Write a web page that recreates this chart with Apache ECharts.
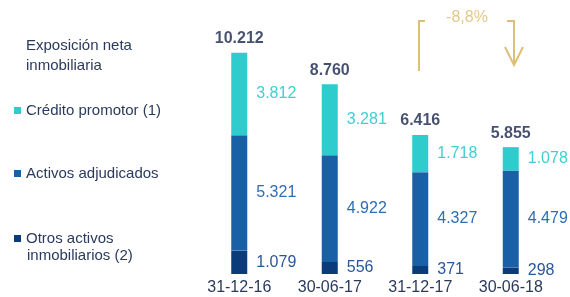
<!DOCTYPE html>
<html lang="es">
<head>
    <meta charset="UTF-8">
    <title>Exposición neta inmobiliaria</title>
    <script src="https://cdn.jsdelivr.net/npm/echarts@6/dist/echarts.min.js"></script>
    <style>
        html, body { margin: 0; padding: 0; background: #fff; }
        #main { width: 570px; height: 297px; }
    </style>
</head>
<body>
<div id="main"></div>
<script type="text/javascript">
    // datos (millones)
    var fechas = ['31-12-16', '30-06-17', '31-12-17', '30-06-18'];
    var creditoPromotor = [3812, 3281, 1718, 1078];
    var activosAdjudicados = [5321, 4922, 4327, 4479];
    var otrosActivos = [1079, 556, 371, 298];
    var totales = [10212, 8760, 6416, 5855];
    var variacion = '-8,8%';

    var fuente = '"Liberation Sans", Arial, sans-serif';
    var cCian = '#2ecccc', cAzul = '#1a60a6', cNavy = '#0b3b78';
    var cTexto = '#2b3a5c', cOro = '#dcc075';

    // 1.234 estilo español
    function fmt(v) {
        return String(v).replace(/\B(?=(\d{3})+(?!\d))/g, '.');
    }

    var myChart = echarts.init(document.getElementById('main'));

    function segLabel(color) {
        return {
            show: true,
            position: 'right',
            distance: 9,
            color: color,
            fontSize: 16,
            fontFamily: fuente,
            formatter: function (p) { return fmt(p.value); }
        };
    }

    var legendBase = {
        orient: 'vertical',
        left: 9,
        icon: 'rect',
        itemWidth: 7,
        itemHeight: 7,
        itemGap: 6,
        selectedMode: false,
        textStyle: { color: cTexto, fontSize: 15, fontFamily: fuente }
    };

    var option = {
        animation: false,
        title: {
            text: 'Exposición neta\ninmobiliaria',
            left: 21,
            top: 31,
            textStyle: { color: cTexto, fontSize: 15, fontWeight: 'normal', fontFamily: fuente, lineHeight: 20 }
        },
        legend: [
            Object.assign({}, legendBase, { top: 98, data: ['Crédito promotor (1)'] }),
            Object.assign({}, legendBase, { top: 161, data: ['Activos adjudicados'] }),
            Object.assign({}, legendBase, {
                top: 226,
                data: ['Otros activos inmobiliarios (2)'],
                formatter: function () { return 'Otros activos'; }
            })
        ],
        grid: { left: 194, width: 362, top: 14, height: 260 },
        xAxis: {
            type: 'category',
            data: fechas,
            axisLine: { show: false },
            axisTick: { show: false },
            axisLabel: { color: cTexto, fontSize: 16, fontFamily: fuente, margin: 6 }
        },
        yAxis: {
            type: 'value',
            min: 0,
            max: 12000,
            show: false,
            splitLine: { show: false }
        },
        series: [
            {
                name: 'Otros activos inmobiliarios (2)',
                type: 'bar',
                stack: 'total',
                barWidth: 16,
                itemStyle: { color: cNavy },
                label: segLabel('#28579a'),
                data: otrosActivos
            },
            {
                name: 'Activos adjudicados',
                type: 'bar',
                stack: 'total',
                barWidth: 16,
                itemStyle: { color: cAzul },
                label: segLabel('#2f6db3'),
                data: activosAdjudicados
            },
            {
                name: 'Crédito promotor (1)',
                type: 'bar',
                stack: 'total',
                barWidth: 16,
                itemStyle: { color: cCian },
                label: segLabel('#3fd0d2'),
                data: creditoPromotor
            },
            {
                name: 'Total',
                type: 'scatter',
                symbolSize: 0,
                silent: true,
                label: {
                    show: true,
                    position: 'top',
                    distance: 6,
                    color: '#17264a',
                    fontSize: 16,
                    fontWeight: 'bold',
                    fontFamily: fuente,
                    formatter: function (p) { return fmt(p.value); }
                },
                data: totales
            }
        ],
        graphic: [
            { type: 'text', x: 27, y: 256, style: { text: 'inmobiliarios (2)', fill: cTexto, fontSize: 15, fontFamily: fuente, verticalAlign: 'middle' } },
            { type: 'polyline', shape: { points: [[425, 21], [419, 21], [419, 71]] }, style: { stroke: cOro, lineWidth: 2, fill: null } },
            { type: 'polyline', shape: { points: [[507, 21], [514, 21], [514, 64]] }, style: { stroke: cOro, lineWidth: 2, fill: null } },
            { type: 'polyline', shape: { points: [[505, 47], [514, 65], [523, 47]] }, style: { stroke: cOro, lineWidth: 2, fill: null } },
            { type: 'text', x: 467, y: 18, style: { text: variacion, fill: '#e0c98c', fontSize: 16, fontFamily: fuente, align: 'center', verticalAlign: 'middle' } }
        ]
    };

    myChart.setOption(option);
</script>
</body>
</html>
